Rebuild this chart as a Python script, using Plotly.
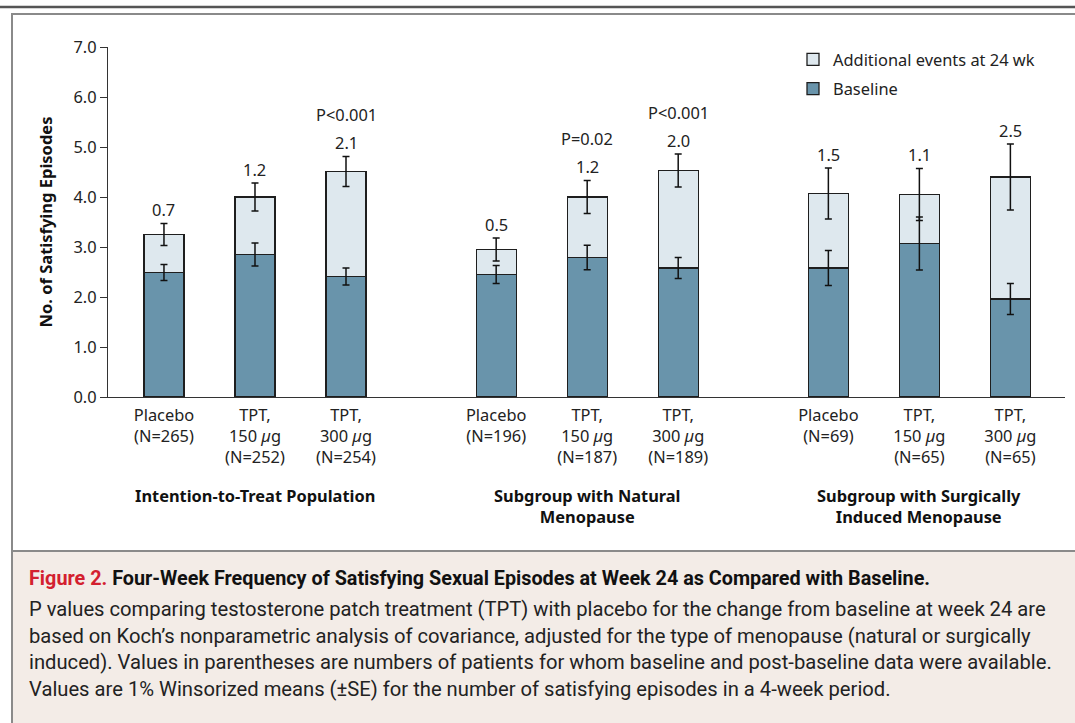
import plotly.graph_objects as go

# ---------------- data ----------------
tick_labels = [
    "Placebo<br>(N=265)", "TPT,<br>150 <i>µ</i>g<br>(N=252)", "TPT,<br>300 <i>µ</i>g<br>(N=254)",
    "Placebo<br>(N=196)", "TPT,<br>150 <i>µ</i>g<br>(N=187)", "TPT,<br>300 <i>µ</i>g<br>(N=189)",
    "Placebo<br>(N=69)", "TPT,<br>150 <i>µ</i>g<br>(N=65)", "TPT,<br>300 <i>µ</i>g<br>(N=65)",
]
group_titles = [
    "Intention-to-Treat Population",
    "Subgroup with Natural<br>Menopause",
    "Subgroup with Surgically<br>Induced Menopause",
]
baseline = [2.49, 2.85, 2.41, 2.45, 2.79, 2.58, 2.58, 3.07, 1.96]
baseline_se = [0.16, 0.23, 0.17, 0.18, 0.245, 0.21, 0.35, 0.53, 0.31]
week24_total = [3.25, 4.00, 4.51, 2.95, 4.00, 4.53, 4.07, 4.05, 4.40]
week24_se = [0.22, 0.28, 0.30, 0.23, 0.33, 0.33, 0.51, 0.52, 0.66]
increment_labels = ["0.7", "1.2", "2.1", "0.5", "1.2", "2.0", "1.5", "1.1", "2.5"]
p_labels = ["", "", "P<0.001", "", "P=0.02", "P<0.001", "", "", ""]
yticks = [0, 1, 2, 3, 4, 5, 6, 7]

caption_title = ("<span style='color:#d3202f'><b>Figure 2.</b></span> "
                 "<b>Four-Week Frequency of Satisfying Sexual Episodes at Week 24 as Compared with Baseline.</b>")
caption_lines = [
    "P values comparing testosterone patch treatment (TPT) with placebo for the change from baseline at week 24 are",
    "based on Koch’s nonparametric analysis of covariance, adjusted for the type of menopause (natural or surgically",
    "induced). Values in parentheses are numbers of patients for whom baseline and post-baseline data were available.",
    "Values are 1% Winsorized means (±SE) for the number of satisfying episodes in a 4-week period.",
]

# ---------------- layout helpers ----------------
GROUP_STEP = 3.65
pos = [g * GROUP_STEP + j for g in range(3) for j in range(3)]
group_centers = [g * GROUP_STEP + 1 for g in range(3)]
additional = [t - b for t, b in zip(week24_total, baseline)]

FONT = "Noto Sans, Open Sans, DejaVu Sans, sans-serif"
CAP_FONT = "Roboto, Noto Sans, sans-serif"
BASE_COL = "#6994ab"
ADD_COL = "#dee8ee"
EDGE = "#1e1e1e"
FS = 16.4

# plot-area pixel geometry (for paper conversions)
W, H = 1075, 723
L, R, T, B = 108, 10, 47, 326
PW, PH = W - L - R, H - T - B


def px(x):
    return (x - L) / PW


def py(y):
    return (H - B - y) / PH


fig = go.Figure()
fig.add_trace(go.Bar(
    x=pos, y=baseline, width=0.44, name="Baseline",
    marker=dict(color=BASE_COL, line=dict(color=EDGE, width=1.3)),
    legendgroup="b", legendrank=2, hoverinfo="skip",
))
fig.add_trace(go.Bar(
    x=pos, y=additional, width=0.44, name="Additional events at 24 wk",
    marker=dict(color=ADD_COL, line=dict(color=EDGE, width=1.3)),
    legendgroup="a", legendrank=1, hoverinfo="skip",
))
# error bars drawn above all bars
fig.add_trace(go.Scatter(
    x=pos, y=baseline, mode="markers", marker=dict(size=1, opacity=0),
    error_y=dict(type="data", array=baseline_se, color="#111", thickness=1.5, width=3.5),
    showlegend=False, hoverinfo="skip",
))
fig.add_trace(go.Scatter(
    x=pos, y=week24_total, mode="markers", marker=dict(size=1, opacity=0),
    error_y=dict(type="data", array=week24_se, color="#111", thickness=1.5, width=3.5),
    showlegend=False, hoverinfo="skip",
))

annotations = []
for x, t, se, lab, p in zip(pos, week24_total, week24_se, increment_labels, p_labels):
    annotations.append(dict(x=x, y=t + se, xref="x", yref="y", text=lab, showarrow=False,
                            yshift=14, yanchor="middle", font=dict(family=FONT, size=FS, color="#222")))
    if p:
        annotations.append(dict(x=x, y=t + se, xref="x", yref="y", text=p, showarrow=False,
                                yshift=42, yanchor="middle", font=dict(family=FONT, size=FS, color="#222")))
for gx, gt in zip(group_centers, group_titles):
    annotations.append(dict(x=gx, y=0, xref="x", yref="y", text="<b>" + gt + "</b>", showarrow=False,
                            yanchor="top", yshift=-85, font=dict(family=FONT, size=FS, color="#111")))

annotations.append(dict(x=px(27), y=py(578), xref="paper", yref="paper", xanchor="left", yanchor="middle",
                        text=caption_title, showarrow=False, font=dict(family=CAP_FONT, size=19.8, color="#111")))
for i, line in enumerate(caption_lines):
    annotations.append(dict(x=px(27), y=py(609 + 26.5 * i), xref="paper", yref="paper", xanchor="left",
                            yanchor="middle", text=line, showarrow=False,
                            font=dict(family=CAP_FONT, size=20.2, color="#222")))

shapes = [
    dict(type="rect", xref="paper", yref="paper", x0=px(12), x1=px(1080), y0=py(551), y1=py(730),
         fillcolor="#f3ece7", line=dict(width=0), layer="below"),
    dict(type="line", xref="paper", yref="paper", x0=px(12), x1=px(1080), y0=py(551), y1=py(551),
         line=dict(color="#8a8a8a", width=2)),
    dict(type="line", xref="paper", yref="paper", x0=px(-5), x1=px(1080), y0=py(7), y1=py(7),
         line=dict(color="#555555", width=2.5)),
    dict(type="line", xref="paper", yref="paper", x0=px(11), x1=px(1080), y0=py(14), y1=py(14),
         line=dict(color="#8a8a8a", width=2)),
    dict(type="line", xref="paper", yref="paper", x0=px(12), x1=px(12), y0=py(13), y1=py(730),
         line=dict(color="#8a8a8a", width=2)),
]

fig.update_layout(
    width=W, height=H,
    margin=dict(l=L, r=R, t=T, b=B),
    barmode="stack",
    paper_bgcolor="white", plot_bgcolor="white",
    font=dict(family=FONT, size=FS, color="#222"),
    showlegend=True,
    legend=dict(x=px(793), y=1.0136, xanchor="left", yanchor="top", traceorder="grouped",
                tracegroupgap=5, itemwidth=30, font=dict(family=FONT, size=16.4, color="#222"),
                bgcolor="rgba(0,0,0,0)"),
    xaxis=dict(range=[-0.615, 9.9], tickvals=pos, ticktext=tick_labels, showline=True,
               linecolor="#333", linewidth=1.3, ticks="", showgrid=False, zeroline=False,
               ticklabelstandoff=3,
               tickfont=dict(family=FONT, size=FS, color="#222")),
    yaxis=dict(range=[0, 7], tickvals=yticks, tickformat=".1f", showline=True, linecolor="#333",
               linewidth=1.3, ticks="outside", ticklen=7, tickwidth=1.3, tickcolor="#333",
               showgrid=False, zeroline=False, tickfont=dict(family=FONT, size=FS, color="#222"),
               title=dict(text="<b>No. of Satisfying Episodes</b>", standoff=16,
                          font=dict(family=FONT, size=16.5, color="#111"))),
    annotations=annotations,
    shapes=shapes,
)

fig.write_html("out.html", config={"displayModeBar": False},
               post_script="document.body.style.margin='0';")
